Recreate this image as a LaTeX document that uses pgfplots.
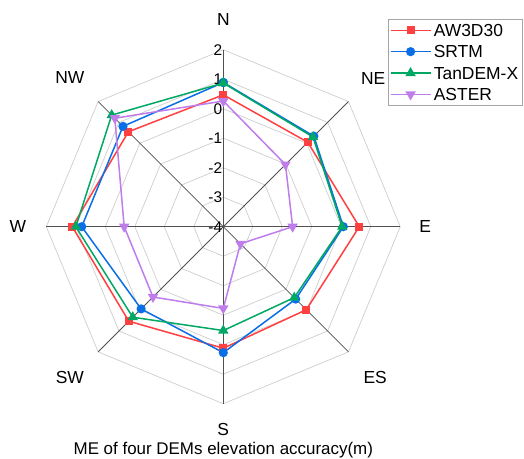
\documentclass[border=0pt]{standalone}
\usepackage{pgfplots}
\pgfplotsset{compat=1.18}
\usepackage{fontspec}
\setmainfont{Liberation Sans}
\definecolor{cAW}{RGB}{255,64,64}
\definecolor{cSR}{RGB}{10,110,230}
\definecolor{cTD}{RGB}{0,168,100}
\definecolor{cAS}{RGB}{190,125,235}
\definecolor{gridc}{RGB}{205,205,205}
\definecolor{spoke}{RGB}{80,80,80}
\begin{document}
\begin{tikzpicture}
\begin{axis}[
  x=29.5bp, y=29.5bp,
  anchor=origin, at={(0,0)},
  xmin=-7.57, xmax=10.19, ymin=-7.87, ymax=7.68,
  hide axis, clip=false,
  legend style={at={(0.7405,0.9586)}, anchor=north west, draw=gray!70, line width=0.8pt,
    font=\fontsize{17.5}{17.5}\selectfont,
    row sep=8.9bp, inner xsep=1.5bp, inner ysep=4.5bp,
    nodes={inner xsep=2.5bp, inner ysep=0pt, text height=12.5bp, text depth=0bp}},
  legend cell align=left,
  legend image code/.code={\draw[line width=1.5bp, mark repeat=2,mark phase=2] plot coordinates {(0bp,0bp)(20bp,0bp)(40bp,0bp)};},
]
% grid octagons
\pgfplotsinvokeforeach{1,2,3,4,5,6}{
  \draw[gridc, line width=0.7pt] (#1,0) -- ({#1*cos(45)},{#1*sin(45)}) -- (0,#1) -- ({-#1*cos(45)},{#1*sin(45)}) -- (-#1,0) -- ({-#1*cos(45)},{-#1*sin(45)}) -- (0,-#1) -- ({#1*cos(45)},{-#1*sin(45)}) -- cycle;
}
% spokes
\draw[spoke, line width=0.8pt] (-6,0) -- (6,0);
\draw[spoke, line width=0.8pt] (0,-6) -- (0,6);
\draw[spoke, line width=0.8pt] ({-6*cos(45)},{-6*sin(45)}) -- ({6*cos(45)},{6*sin(45)});
\draw[spoke, line width=0.8pt] ({-6*cos(45)},{6*sin(45)}) -- ({6*cos(45)},{-6*sin(45)});
% radial tick labels
\pgfplotsinvokeforeach{0,1,2,3,4,5,6}{
  \node[anchor=east, font=\fontsize{15.5}{15.5}\selectfont, inner sep=0pt, xshift=-1bp] at (0,#1) {\pgfmathparse{int(#1-4)}\pgfmathresult};
}
% direction labels
\begin{scope}[every node/.style={font=\fontsize{17.5}{17.5}\selectfont, inner sep=0pt}]
\node at (0,7.03) {N};
\node at (5.08,5.04) {NE};
\node at (6.84,0) {E};
\node at (5.15,-5.12) {ES};
\node at (0,-6.88) {S};
\node at (-5.2,-5.12) {SW};
\node at (-6.96,0) {W};
\node at (-5.2,5.07) {NW};
\node[font=\fontsize{17}{17}\selectfont, anchor=base] at (0,-7.73) {ME of four DEMs elevation accuracy(m)};
\end{scope}

\addplot[cAW, line width=1.5bp, mark=square*, mark size=3.2bp] table[x expr={(\thisrow{v}+4)*cos(\thisrow{a})}, y expr={(\thisrow{v}+4)*sin(\thisrow{a})}] {
a v
90 0.47
45 0.05
0 0.61
-45 -0.02
-90 0.12
-135 0.53
180 1.12
135 0.55
90 0.47
};
\addlegendentry{AW3D30}
\addplot[cSR, line width=1.5bp, mark=*, mark size=3.8bp] table[x expr={(\thisrow{v}+4)*cos(\thisrow{a})}, y expr={(\thisrow{v}+4)*sin(\thisrow{a})}] {
a v
90 0.89
45 0.34
0 0.07
-45 -0.53
-90 0.27
-135 -0.06
180 0.80
135 0.81
90 0.89
};
\addlegendentry{SRTM}
\addplot[cTD, line width=1.5bp, mark=triangle*, mark size=4.5bp] table[x expr={(\thisrow{v}+4)*cos(\thisrow{a})}, y expr={(\thisrow{v}+4)*sin(\thisrow{a})}] {
a v
90 0.87
45 0.30
0 0.03
-45 -0.60
-90 -0.48
-135 0.34
180 1.00
135 1.35
90 0.87
};
\addlegendentry{TanDEM-X}
\addplot[cAS, line width=1.5bp, mark=triangle*, mark size=4.5bp, mark options={rotate=180}] table[x expr={(\thisrow{v}+4)*cos(\thisrow{a})}, y expr={(\thisrow{v}+4)*sin(\thisrow{a})}] {
a v
90 0.26
45 -1.02
0 -1.65
-45 -3.18
-90 -1.23
-135 -0.63
180 -0.64
135 1.20
90 0.26
};
\addlegendentry{ASTER}
\end{axis}
\pgfresetboundingbox
\path[use as bounding box] (-223.3bp,-232.3bp) rectangle (300.7bp,226.7bp);
\end{tikzpicture}
\end{document}
